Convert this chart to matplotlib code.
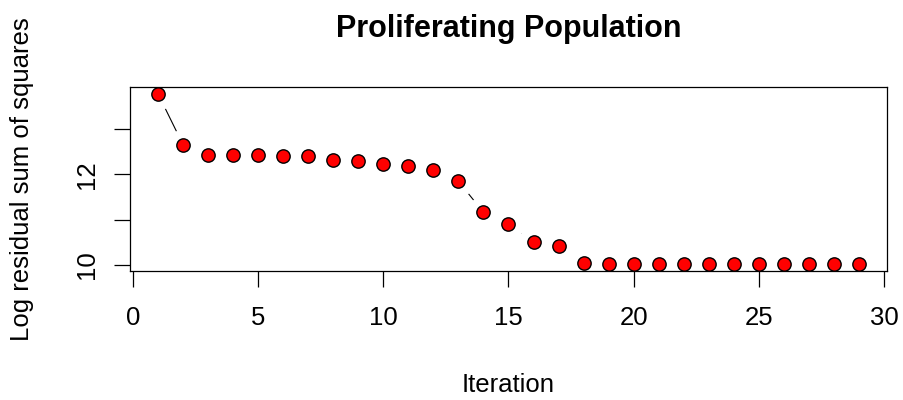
import numpy as np
import matplotlib
matplotlib.use("Agg")
import matplotlib.pyplot as plt

plt.rcParams['font.family'] = ['Liberation Sans', 'DejaVu Sans']

# log residual sum of squares per iteration
iteration = np.arange(1, 30)
log_rss = [13.79, 12.66, 12.44, 12.44, 12.43, 12.42, 12.41, 12.33, 12.30, 12.24,
           12.18, 12.09, 11.85, 11.16, 10.91, 10.50, 10.42, 10.04, 10.01, 10.01,
           10.01, 10.01, 10.01, 10.01, 10.01, 10.01, 10.01, 10.01, 10.01]

xticks = [0, 5, 10, 15, 20, 25, 30]
yticks = [10, 11, 12, 13]
ylabels = ['10', '', '12', '']

fig = plt.figure(figsize=(9.04, 4), dpi=100)
ax = fig.add_axes([130 / 904, 1 - 271 / 400, (887 - 130) / 904, (271 - 87) / 400])

# type="b": line with gaps around the points (white halo under each point)
ax.plot(iteration, log_rss, color='black', lw=0.8, zorder=1)
ax.plot(iteration, log_rss, 'o', ms=23, mfc='white', mec='none', zorder=1.5)
ax.plot(iteration, log_rss, 'o', ms=9.6, mfc='#ff0000', mec='black', mew=1.0, zorder=3)

rng = 29 - 1
ax.set_xlim(1 - 0.04 * rng, 29 + 0.04 * rng)
ymin, ymax = min(log_rss), max(log_rss)
yr = ymax - ymin
ax.set_ylim(ymin - 0.04 * yr, ymax + 0.04 * yr)

ax.set_xticks(xticks)
ax.set_yticks(yticks)
ax.set_yticklabels(ylabels, rotation=90, va='center')
ax.tick_params(axis='both', direction='out', length=11.5, width=0.9, labelsize=18.5)
ax.tick_params(axis='x', pad=14)
ax.tick_params(axis='y', pad=11)
for s in ax.spines.values():
    s.set_linewidth(0.9)
    s.set_zorder(2.5)

ax.set_title('Proliferating Population', fontsize=22, fontweight='bold', pad=36)
ax.set_xlabel('Iteration', fontsize=18.5, labelpad=31)
ax.set_ylabel('Log residual sum of squares', fontsize=18.5, labelpad=29)

fig.savefig('out.png', dpi=100)
